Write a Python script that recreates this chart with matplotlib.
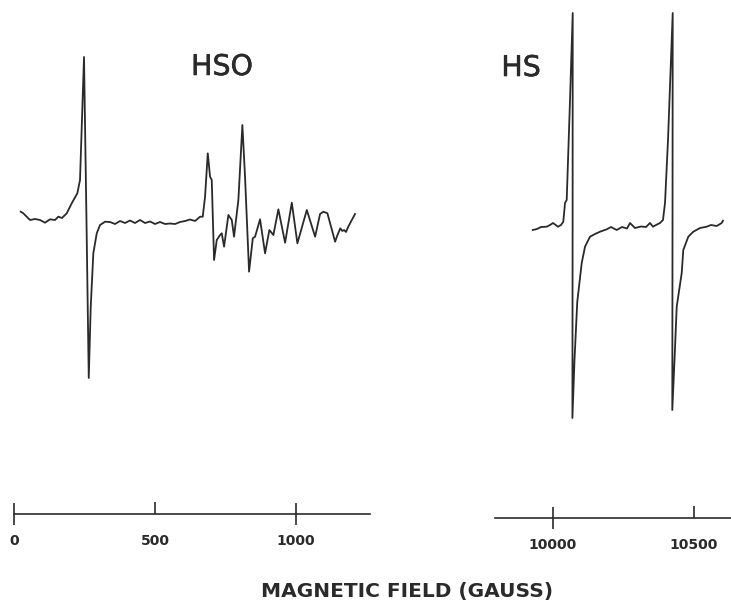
import matplotlib.pyplot as plt
import matplotlib.patheffects as pe

# HSO spectrum: field (gauss), derivative signal (arb. units)
hso_field = [23.8, 33, 56.7, 74.5, 92.2, 110, 127.7, 145.4, 157, 170, 187, 204.6, 224.5, 234,
             248.2, 257, 265, 272, 281.2, 293.3, 305, 322.7,
             340.4, 358, 375.9, 393.6, 411.3, 429, 446.8, 464.5, 482.3, 500, 517.7, 535.5, 553.2,
             570.9, 588.7, 606.4, 624, 641.8, 659.6,
             669, 677.3, 686.9, 695, 701, 709.2, 718.8, 730.5, 736.5, 744.7, 760, 772, 780, 795.4,
             809.6, 819, 833.3, 846.5, 854.6, 872.3, 890, 905.3, 919.5, 937.2, 961, 984.8, 1004.6,
             1038, 1067.4, 1085, 1096.8, 1111, 1138.3, 1145.4, 1156.7, 1163.8, 1170, 1177, 1184.4,
             1197.5, 1209]
hso_signal = [10.3, 8.7, 2, 3, 2, -0.7, 2.7, 2, 5.3, 4, 8.7, 18.7, 28.7, 42,
              165, 0, -156, -84.7, -31.3, -11.3, -3, 0.3,
              0, -2, 1, -1, 1.5, -1, 2, -1, 0.5, -2, 0, -2, -1.5,
              -2, 0, 1, 2.5, 1, 5.3,
              5.3, 25.3, 68.7, 45.3, 42, -38, -18, -13, -11.3, -24.7, 7, 2, -14.7, 22,
              97, 45.3, -49.7, -16.3, -14.7, 2.7, -31.3, -8, -13, 12.7, -20.7, 19.3, -21.3,
              12, -14.7, 8, 10.3, 8.7, -19.7, -14, -6.3, -9, -8, -10, -5,
              2, 8]

# HS spectrum
hs_field = [9928, 9943.3, 9957.4, 9977.7, 9989.4, 10000, 10017.7, 10028.4, 10036.5, 10042.6,
            10048.6, 10060.3, 10069.9, 10069.5, 10068.8, 10076.2, 10086, 10101.8, 10113.5,
            10131.2, 10148.9, 10166.7, 10190.4, 10205.7, 10225.9, 10244.7, 10262.4, 10273,
            10290.8, 10312, 10329.8, 10344, 10354.6, 10365.2, 10379.4, 10390, 10397.2, 10407.8,
            10424.5, 10423.8, 10423, 10430.9, 10438.7, 10456.4, 10462, 10479.8, 10497.5,
            10521.3, 10545, 10560.3, 10580.5, 10598.2, 10602.8]
hs_signal = [-2, -1, 1, 1.3, 3, 5, 1.3, 3, 6.3, 25,
             28, 128, 215, 0, -190, -132, -74, -35, -18.7,
             -8.7, -6, -3.7, -1.3, 1, -2, 1, -0.5, 5,
             0, 1.5, 1, 5, 1.3, 3, 5, 8, 25, 88,
             215, 0, -182, -132, -78.7, -45, -22, -8.7, -3.7,
             0, 1.3, 3, 2, 5, 7.3]

left_ticks = [0, 1000]
left_mid_tick = [500]
right_ticks = [10000]
right_mid_tick = [10500]

W, H = 731, 603
ink = '#2a2a2a'


def box(x0, x1, y_bottom, y_top):
    # pixel box -> figure fraction [left, bottom, width, height]
    return [x0 / W, 1 - y_bottom / H, (x1 - x0) / W, (y_bottom - y_top) / H]


fig = plt.figure(figsize=(W / 100, H / 100), dpi=100)
plt.rcParams['font.family'] = 'DejaVu Sans'

ax1 = fig.add_axes(box(14, 370, 514, 0))
ax2 = fig.add_axes(box(495, 731, 518, 0))

ax1.plot(hso_field, hso_signal, color=ink, lw=1.3, clip_on=False)
ax2.plot(hs_field, hs_signal, color=ink, lw=1.3, clip_on=False)

ax1.set_xlim(0, 1262)
ax1.set_ylim(-292, 222)
ax2.set_xlim(9794.3, 10631.2)
ax2.set_ylim(-290, 228)

for ax, major, minor in [(ax1, left_ticks, left_mid_tick), (ax2, right_ticks, right_mid_tick)]:
    for s in ['top', 'left', 'right']:
        ax.spines[s].set_visible(False)
    ax.spines['bottom'].set_linewidth(1.2)
    ax.spines['bottom'].set_color(ink)
    ax.set_yticks([])
    ax.set_xticks(major)
    ax.set_xticklabels([str(v) for v in major])
    ax.set_xticks(minor, minor=True)
    ax.set_xticklabels([str(v) for v in minor], minor=True)
    ax.tick_params(axis='x', which='major', direction='inout', length=16.5, width=1.2,
                   color=ink, pad=6, labelsize=10, labelcolor=ink)
    ax.tick_params(axis='x', which='minor', direction='in', length=8.5, width=1.2,
                   color=ink, pad=14.3, labelsize=10, labelcolor=ink)
    for lab in ax.get_xticklabels(which='both'):
        lab.set_fontweight('bold')
    ax.patch.set_alpha(0)

thick = [pe.withStroke(linewidth=0.4, foreground=ink)]
fig.text(222 / W, 1 - 67 / H, 'HSO', fontsize=20.5, color=ink, ha='center', va='center',
         path_effects=thick)
fig.text(521 / W, 1 - 68 / H, 'HS', fontsize=20.5, color=ink, ha='center', va='center',
         path_effects=thick)
fig.text(407 / W, 1 - 592 / H, 'MAGNETIC FIELD (GAUSS)', fontsize=14.5, fontweight='bold',
         color=ink, ha='center', va='center')

fig.savefig('out.png', dpi=100)
